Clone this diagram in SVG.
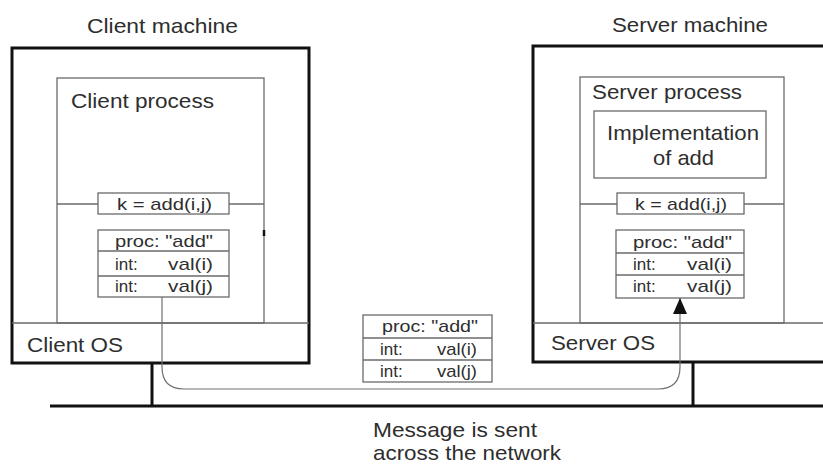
<svg xmlns="http://www.w3.org/2000/svg" width="823" height="464" viewBox="0 0 823 464">
<defs>
<style>
.t{font-family:"Liberation Sans",Arial,sans-serif;fill:#2e2e2e;}
.big{font-size:21px;}
.sm{font-size:17px;}
.thin{fill:none;stroke:#6a6a6a;stroke-width:1.3;}
.box{fill:#fff;stroke:#6a6a6a;stroke-width:1.3;}
.thick{fill:none;stroke:#111;stroke-width:3;}
.conn{fill:none;stroke:#707070;stroke-width:1.2;}
</style>
<marker id="ah" viewBox="0 0 16 14" refX="16" refY="7" markerWidth="16" markerHeight="14" markerUnits="userSpaceOnUse" orient="auto">
<path d="M0,0 L16,7 L0,14 Z" fill="#111"/>
</marker>
</defs>
<rect width="823" height="464" fill="#fff"/>

<g id="network">
<line class="thick" x1="50" y1="406" x2="823" y2="406" stroke-width="4"/>
<line class="thick" x1="152" y1="363" x2="152" y2="406" stroke-width="4"/>
<line class="thick" x1="693" y1="362" x2="693" y2="406" stroke-width="4"/>
</g>

<g id="client-machine">
<text class="t big" x="87" y="33" textLength="151" lengthAdjust="spacingAndGlyphs">Client machine</text>
<rect class="thick" x="12" y="48" width="297" height="315"/>
<line class="thin" x1="12" y1="323" x2="309" y2="323"/>
<text class="t big" x="27" y="352" textLength="96" lengthAdjust="spacingAndGlyphs">Client OS</text>
</g>

<g id="client-process">
<rect class="thin" x="57" y="78" width="207" height="245"/>
<text class="t big" x="71" y="108" textLength="143" lengthAdjust="spacingAndGlyphs">Client process</text>
<line class="thin" x1="57" y1="204" x2="98" y2="204"/>
<line class="thin" x1="229" y1="204" x2="264" y2="204"/>
<line x1="264" y1="230" x2="264" y2="236" stroke="#111" stroke-width="2.5"/>
</g>

<g id="client-call">
<rect class="box" x="98" y="193" width="131" height="21"/>
<text class="t sm" x="117" y="210" textLength="95" lengthAdjust="spacingAndGlyphs">k = add(i,j)</text>
</g>

<g id="client-message">
<rect class="box" x="98" y="230" width="131" height="67"/>
<line class="thin" x1="98" y1="251" x2="229" y2="251"/>
<line class="thin" x1="98" y1="276" x2="229" y2="276"/>
<text class="t sm" x="115" y="247" textLength="98" lengthAdjust="spacingAndGlyphs">proc: "add"</text>
<text class="t sm" x="115" y="270">int:</text>
<text class="t sm" x="168" y="270" textLength="45" lengthAdjust="spacingAndGlyphs">val(i)</text>
<text class="t sm" x="115" y="292">int:</text>
<text class="t sm" x="168" y="292" textLength="45" lengthAdjust="spacingAndGlyphs">val(j)</text>
</g>

<g id="server-machine">
<text class="t big" x="612" y="32" textLength="156" lengthAdjust="spacingAndGlyphs">Server machine</text>
<path class="thick" d="M830,46 H533 V362 H830"/>
<line class="thin" x1="533" y1="323" x2="823" y2="323"/>
<text class="t big" x="551" y="350" textLength="104" lengthAdjust="spacingAndGlyphs">Server OS</text>
</g>

<g id="server-process">
<rect class="thin" x="580" y="77" width="204" height="246"/>
<text class="t big" x="592" y="99" textLength="150" lengthAdjust="spacingAndGlyphs">Server process</text>
<line class="thin" x1="580" y1="204" x2="617" y2="204"/>
<line class="thin" x1="744" y1="204" x2="784" y2="204"/>
</g>

<g id="implementation">
<rect class="thin" x="594" y="111" width="172" height="67"/>
<text class="t big" x="607" y="140" textLength="152" lengthAdjust="spacingAndGlyphs">Implementation</text>
<text class="t big" x="653" y="165" textLength="61" lengthAdjust="spacingAndGlyphs">of add</text>
</g>

<g id="server-call">
<rect class="box" x="617" y="193" width="127" height="21"/>
<text class="t sm" x="635" y="210" textLength="92" lengthAdjust="spacingAndGlyphs">k = add(i,j)</text>
</g>

<g id="server-message">
<rect class="box" x="616" y="230" width="128" height="68"/>
<line class="thin" x1="616" y1="253" x2="744" y2="253"/>
<line class="thin" x1="616" y1="275" x2="744" y2="275"/>
<text class="t sm" x="633" y="248" textLength="99" lengthAdjust="spacingAndGlyphs">proc: "add"</text>
<text class="t sm" x="633" y="270">int:</text>
<text class="t sm" x="687" y="270" textLength="45" lengthAdjust="spacingAndGlyphs">val(i)</text>
<text class="t sm" x="633" y="292">int:</text>
<text class="t sm" x="687" y="292" textLength="45" lengthAdjust="spacingAndGlyphs">val(j)</text>
</g>

<g id="connectors">
<path class="conn" d="M162,297 V367 Q162,389 184,389 H658 Q680,389 680,367 V298" marker-end="url(#ah)"/>
</g>

<g id="network-message">
<rect class="box" x="363" y="315" width="129" height="67"/>
<line class="thin" x1="363" y1="338" x2="492" y2="338"/>
<line class="thin" x1="363" y1="360" x2="492" y2="360"/>
<text class="t sm" x="382" y="332" textLength="96" lengthAdjust="spacingAndGlyphs">proc: "add"</text>
<text class="t sm" x="380" y="355">int:</text>
<text class="t sm" x="437" y="355" textLength="40" lengthAdjust="spacingAndGlyphs">val(i)</text>
<text class="t sm" x="380" y="377">int:</text>
<text class="t sm" x="437" y="377" textLength="40" lengthAdjust="spacingAndGlyphs">val(j)</text>
</g>

<g id="caption">
<text class="t big" x="373" y="437" textLength="164" lengthAdjust="spacingAndGlyphs">Message is sent</text>
<text class="t big" x="373" y="460" textLength="188" lengthAdjust="spacingAndGlyphs">across the network</text>
</g>
</svg>
